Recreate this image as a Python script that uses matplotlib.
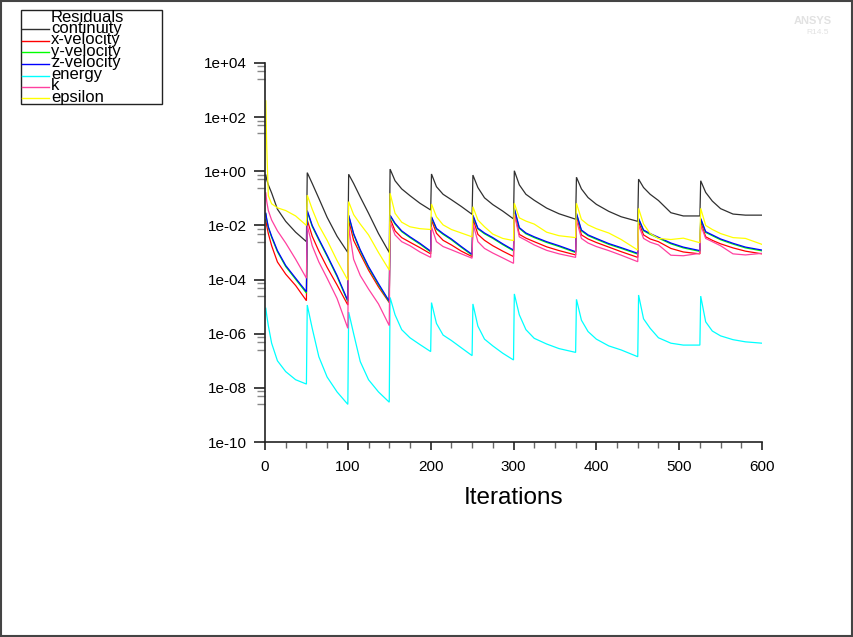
import numpy as np
import matplotlib
matplotlib.use("Agg")
import matplotlib.pyplot as plt
from matplotlib.lines import Line2D
from matplotlib.patches import Rectangle
from matplotlib.ticker import FixedLocator, FuncFormatter

plt.rcParams['font.family'] = ['Liberation Sans', 'DejaVu Sans']

# ---------------- data (log10 of residuals) ----------------
iterations = [1, 2, 4, 8, 15, 25, 37, 50,
              51, 57, 65, 75, 87, 100,
              101, 107, 115, 125, 137, 150,
              151, 157, 165, 175, 187, 200,
              201, 207, 215, 225, 237, 250,
              251, 257, 265, 275, 287, 300,
              301, 307, 315, 325, 340, 355, 375,
              376, 382, 390, 400, 415, 430, 450,
              451, 457, 465, 475, 490, 505, 525,
              526, 532, 540, 550, 565, 580, 600]

continuity_log = [-0.14, -0.3, -0.5, -0.8, -1.4, -1.85, -2.25, -2.6,
                  -0.05, -0.45, -1.0, -1.7, -2.4, -3.0,
                  -0.11, -0.45, -0.95, -1.55, -2.3, -3.0,
                  0.08, -0.35, -0.65, -0.9, -1.18, -1.43,
                  -0.1, -0.57, -0.85, -1.05, -1.3, -1.59,
                  -0.14, -0.6, -0.98, -1.23, -1.47, -1.76,
                  0.02, -0.5, -0.85, -1.07, -1.36, -1.57, -1.77,
                  -0.22, -0.65, -0.97, -1.22, -1.48, -1.68, -1.85,
                  -0.29, -0.6, -0.85, -1.08, -1.53, -1.65, -1.65,
                  -0.35, -0.78, -1.1, -1.38, -1.58, -1.62, -1.62]

x_velocity_log = [-1.8, -2.0, -2.3, -2.75, -3.35, -3.8, -4.22, -4.78,
                  -1.8, -2.4, -2.95, -3.55, -4.2, -4.94,
                  -1.8, -2.55, -3.05, -3.65, -4.27, -4.85,
                  -1.74, -2.2, -2.45, -2.62, -2.82, -3.05,
                  -1.8, -2.29, -2.55, -2.72, -2.95, -3.15,
                  -1.74, -2.33, -2.55, -2.75, -2.95, -3.15,
                  -1.5, -2.33, -2.47, -2.6, -2.79, -2.93, -3.09,
                  -1.65, -2.35, -2.5, -2.63, -2.8, -2.97, -3.18,
                  -1.86, -2.35, -2.5, -2.6, -2.85, -2.98, -3.05,
                  -1.86, -2.42, -2.55, -2.68, -2.83, -2.95, -3.05]

y_velocity_log = [-1.58, -1.78, -2.08, -2.44, -2.97, -3.52, -3.99, -4.5,
                  -1.48, -2.04, -2.54, -3.14, -3.89, -4.82,
                  -1.65, -2.34, -2.94, -3.56, -4.19, -4.83,
                  -1.65, -1.95, -2.23, -2.45, -2.69, -2.98,
                  -1.71, -2.14, -2.33, -2.53, -2.81, -3.1,
                  -1.65, -2.13, -2.31, -2.48, -2.71, -2.94,
                  -1.4, -2.11, -2.31, -2.45, -2.63, -2.78, -3.0,
                  -1.58, -2.2, -2.38, -2.51, -2.7, -2.85, -3.06,
                  -1.77, -2.2, -2.33, -2.47, -2.68, -2.83, -2.96,
                  -1.77, -2.26, -2.38, -2.53, -2.69, -2.83, -2.94]

z_velocity_log = [-1.55, -1.75, -2.05, -2.4, -2.93, -3.48, -3.95, -4.45,
                  -1.45, -2.0, -2.5, -3.1, -3.85, -4.78,
                  -1.62, -2.3, -2.9, -3.52, -4.15, -4.8,
                  -1.62, -1.92, -2.2, -2.42, -2.66, -2.95,
                  -1.68, -2.11, -2.3, -2.5, -2.78, -3.07,
                  -1.62, -2.1, -2.28, -2.45, -2.68, -2.91,
                  -1.37, -2.08, -2.28, -2.42, -2.6, -2.75, -2.97,
                  -1.55, -2.17, -2.35, -2.48, -2.67, -2.82, -3.03,
                  -1.74, -2.17, -2.3, -2.44, -2.65, -2.8, -2.93,
                  -1.74, -2.23, -2.35, -2.5, -2.66, -2.8, -2.91]

energy_log = [-5.06, -5.3, -5.7, -6.35, -7.0, -7.4, -7.7, -7.86,
              -4.94, -5.8, -6.85, -7.6, -8.15, -8.61,
              -5.2, -6.0, -7.03, -7.7, -8.15, -8.53,
              -4.66, -5.3, -5.85, -6.15, -6.4, -6.66,
              -4.85, -5.62, -6.05, -6.25, -6.52, -6.81,
              -4.9, -5.72, -6.2, -6.45, -6.72, -6.97,
              -4.53, -5.3, -5.85, -6.17, -6.38, -6.55, -6.69,
              -4.73, -5.5, -5.92, -6.2, -6.45, -6.6, -6.85,
              -4.57, -5.45, -5.8, -6.15, -6.35, -6.42, -6.42,
              -4.61, -5.56, -5.9, -6.08, -6.22, -6.3, -6.35]

k_log = [-0.8, -1.1, -1.45, -1.8, -2.2, -2.65, -3.25, -3.95,
         -2.0, -2.75, -3.35, -3.95, -4.7, -5.8,
         -2.05, -3.25, -3.85, -4.35, -4.9, -5.7,
         -1.86, -2.35, -2.6, -2.75, -2.98, -3.18,
         -2.05, -2.6, -2.78, -2.9, -3.05, -3.21,
         -1.92, -2.6, -2.85, -3.02, -3.2, -3.4,
         -1.58, -2.42, -2.55, -2.72, -2.92, -3.05, -3.18,
         -1.8, -2.48, -2.65, -2.78, -2.93, -3.1, -3.34,
         -1.98, -2.48, -2.62, -2.72, -3.1, -3.12, -3.03,
         -1.98, -2.48, -2.6, -2.75, -3.05, -3.09, -3.03]

epsilon_log = [2.6, 1.0, -0.9, -1.2, -1.35, -1.45, -1.65, -2.0,
               -0.88, -1.4, -2.0, -2.55, -3.3, -4.02,
               -1.12, -1.6, -1.95, -2.35, -3.0, -3.65,
               -0.81, -1.55, -1.88, -2.05, -2.12, -2.15,
               -1.21, -1.68, -1.98, -2.15, -2.28, -2.42,
               -1.31, -1.8, -2.05, -2.32, -2.48, -2.56,
               -1.18, -1.72, -1.84, -1.95, -2.25, -2.38, -2.45,
               -1.18, -1.78, -1.98, -2.12, -2.28, -2.52, -2.91,
               -1.37, -1.95, -2.3, -2.48, -2.52, -2.47, -2.64,
               -1.37, -2.0, -2.15, -2.3, -2.45, -2.48, -2.7]

series_names = ['continuity', 'x-velocity', 'y-velocity', 'z-velocity', 'energy', 'k', 'epsilon']
series_colors = ['#303030', '#ff0000', '#00ff00', '#0000ff', '#00ffff', '#ff40a0', '#ffff00']
series_data = [continuity_log, x_velocity_log, y_velocity_log, z_velocity_log,
               energy_log, k_log, epsilon_log]

x_ticks = [0, 100, 200, 300, 400, 500, 600]
y_major_exps = [4, 2, 0, -2, -4, -6, -8, -10]

# ---------------- figure ----------------
W, H = 854, 637
fig = plt.figure(figsize=(W / 100, H / 100), dpi=100)
fig.patch.set_facecolor('white')

def fx(px):
    return px / W

def fy(py):
    return 1 - py / H

ax = fig.add_axes([fx(265), fy(442), fx(762) - fx(265), fy(63) - fy(442)])
ax.set_yscale('log')
it = np.array(iterations)
for vals, col in zip(series_data, series_colors):
    ax.plot(it, np.power(10.0, np.array(vals)), color=col, lw=0.9, solid_joinstyle='miter')

ax.set_xlim(0, 600)
ax.set_ylim(1e-10, 1e4)
for s in ['top', 'right']:
    ax.spines[s].set_visible(False)
for s in ['left', 'bottom']:
    ax.spines[s].set_linewidth(1.2)
    ax.spines[s].set_color('#222222')

ax.xaxis.set_major_locator(FixedLocator(x_ticks))
ax.xaxis.set_minor_locator(FixedLocator([v for v in range(0, 601, 25) if v % 100]))
major_y = [10.0 ** e for e in y_major_exps]
minor_y = []
for e in y_major_exps[:-1]:
    for f in (0.75, 0.5, 0.25):
        minor_y.append(f * 10.0 ** e)
ax.yaxis.set_major_locator(FixedLocator(major_y))
ax.yaxis.set_minor_locator(FixedLocator(minor_y))

def yfmt(v, pos):
    e = int(round(np.log10(v)))
    return '1e%s%02d' % ('+' if e >= 0 else '-', abs(e))

ax.yaxis.set_major_formatter(FuncFormatter(yfmt))
ax.yaxis.set_minor_formatter(FuncFormatter(lambda v, p: ''))

ax.tick_params(axis='y', which='major', direction='out', length=8, width=1.2,
               color='#222222', labelsize=11, pad=5)
ax.tick_params(axis='y', which='minor', direction='out', length=6, width=1.0,
               color='#888888')
ax.tick_params(axis='x', which='major', direction='out', length=6, width=1.2,
               color='#222222', labelsize=11, pad=7)
ax.tick_params(axis='x', which='minor', direction='out', length=4, width=1.0,
               color='#666666')
for lab in ax.get_xticklabels() + ax.get_yticklabels():
    lab.set_fontweight('medium')
ax.set_xlabel('Iterations', fontsize=17.5, labelpad=9)

# ---------------- legend (Fluent-style box) ----------------
fig.add_artist(Rectangle((fx(21), fy(104)), fx(162) - fx(21), fy(10) - fy(104),
                         transform=fig.transFigure, fill=False, edgecolor='#222222', lw=1.0))
fig.text(fx(51), fy(22), 'Residuals', fontsize=12, va='baseline', ha='left')
legend_y = [29.3, 40.5, 52.3, 63.5, 75.5, 86.8, 98.3]
for name, col, ly in zip(series_names, series_colors, legend_y):
    fig.add_artist(Line2D([fx(22), fx(49)], [fy(ly), fy(ly)], transform=fig.transFigure,
                          color=col, lw=1.0))
    fig.text(fx(51), fy(ly + 3.5), name, fontsize=12, va='baseline', ha='left')

# faint logo top-right
fig.text(fx(813), fy(21), 'ANSYS', fontsize=8, color='#e2e2e2', ha='center', va='center',
         fontweight='bold')
fig.text(fx(818), fy(32), 'R14.5', fontsize=6, color='#e2e2e2', ha='center', va='center')

# figure border
fig.add_artist(Rectangle((0.001, 0.001), 0.997, 0.997, transform=fig.transFigure,
                         fill=False, edgecolor='#444444', lw=1.5))

fig.savefig('out.png', dpi=100)
